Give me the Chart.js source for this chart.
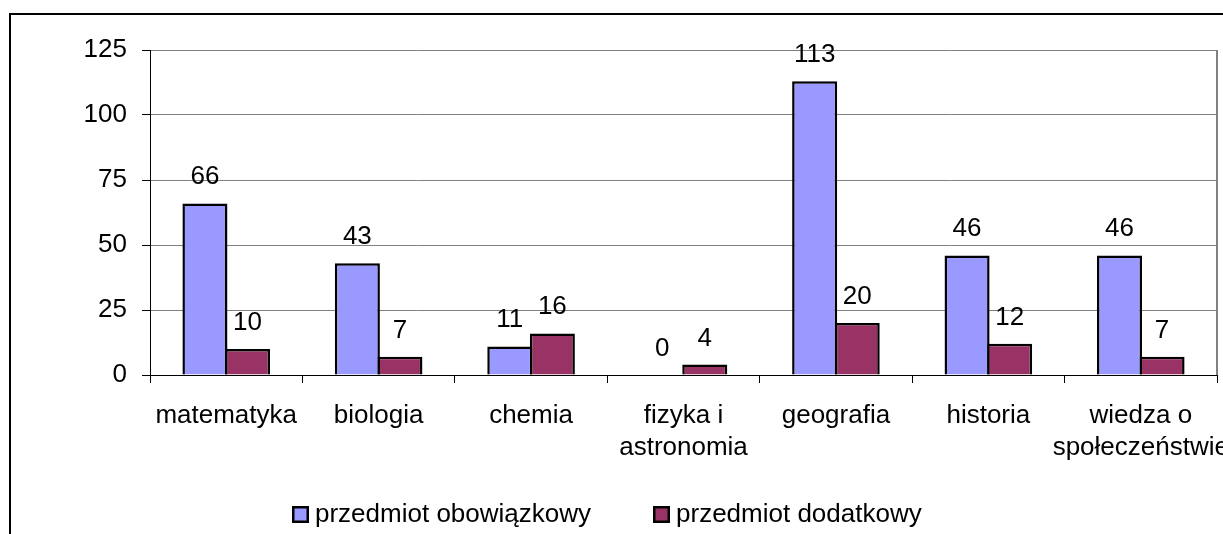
<!DOCTYPE html>
<html>
<head>
<meta charset="utf-8">
<script src="https://cdn.jsdelivr.net/npm/chart.js@4"></script>
<style>
    html, body { margin: 0; padding: 0; background: #ffffff; }
    #wrap { width: 1223px; height: 534px; }
</style>
</head>
<body>
<div id="wrap"><canvas id="subjectChart" width="1223" height="534"></canvas></div>
<script>
// Przedmioty wybierane na egzaminie - obowiazkowy vs dodatkowy

const subjects = ['matematyka', 'biologia', 'chemia', ['fizyka i', 'astronomia'], 'geografia', 'historia', ['wiedza o', 'społeczeństwie']];
const mandatory = [66, 43, 11, 0, 113, 46, 46];
const additional = [10, 7, 16, 4, 20, 12, 7];
const seriesNames = ['przedmiot obowiązkowy', 'przedmiot dodatkowy'];
const yTicks = [0, 25, 50, 75, 100, 125];

const FONT = 'Liberation Sans, Arial, sans-serif';
const BLUE = '#9999ff';
const PLUM = '#993366';

// outer frame, plot right edge, value labels and the legend
const excelLook = {
    id: 'excelLook',
    beforeDraw(chart) {
        const ctx = chart.ctx;
        ctx.save();
        ctx.strokeStyle = '#000';
        ctx.lineWidth = 2;
        ctx.beginPath();
        ctx.moveTo(10, chart.height + 2);
        ctx.lineTo(10, 14);
        ctx.lineTo(chart.width + 2, 14);
        ctx.stroke();
        ctx.restore();
    },
    afterDatasetsDraw(chart) {
        const ctx = chart.ctx;
        const area = chart.chartArea;
        ctx.save();
        ctx.strokeStyle = '#808080';
        ctx.lineWidth = 2;
        ctx.beginPath();
        ctx.moveTo(area.right, area.top);
        ctx.lineTo(area.right, area.bottom);
        ctx.stroke();

        ctx.font = '26px ' + FONT;
        ctx.fillStyle = '#000';
        ctx.textAlign = 'center';
        ctx.textBaseline = 'alphabetic';
        chart.data.datasets.forEach((dataset, i) => {
            const meta = chart.getDatasetMeta(i);
            meta.data.forEach((bar, index) => {
                ctx.fillText(String(dataset.data[index]), bar.x, bar.y - 19);
            });
        });
        ctx.restore();
    },
    afterDraw(chart) {
        const ctx = chart.ctx;
        ctx.save();
        ctx.font = '26px ' + FONT;
        ctx.textBaseline = 'alphabetic';
        ctx.textAlign = 'left';
        let x = 292;
        const boxTop = 506;
        chart.data.datasets.forEach(dataset => {
            ctx.fillStyle = dataset.backgroundColor;
            ctx.fillRect(x, boxTop, 17, 17);
            ctx.strokeStyle = '#000';
            ctx.lineWidth = 2.5;
            ctx.strokeRect(x + 1.25, boxTop + 1.25, 14.5, 14.5);
            ctx.fillStyle = '#000';
            ctx.fillText(dataset.label, x + 23, 522);
            x += 23 + ctx.measureText(dataset.label).width + 62;
        });
        ctx.restore();
    }
};

const ctx = document.getElementById('subjectChart').getContext('2d');
const subjectChart = new Chart(ctx, {
    type: 'bar',
    data: {
        labels: subjects,
        datasets: [{
            label: seriesNames[0],
            data: mandatory,
            backgroundColor: BLUE,
            borderColor: '#000',
            borderWidth: 2.5,
            categoryPercentage: 0.5583,
            barPercentage: 1.0588
        }, {
            label: seriesNames[1],
            data: additional,
            backgroundColor: PLUM,
            borderColor: '#000',
            borderWidth: 2.5,
            categoryPercentage: 0.5583,
            barPercentage: 1.0588
        }]
    },
    options: {
        responsive: false,
        animation: false,
        devicePixelRatio: 1,
        layout: {
            padding: { top: 50, right: 6, bottom: 0, left: 0 }
        },
        scales: {
            y: {
                min: 0,
                max: 125,
                afterBuildTicks: scale => {
                    scale.ticks = yTicks.map(v => ({ value: v }));
                },
                afterFit: scale => {
                    scale.width = 150;
                },
                ticks: {
                    color: '#000',
                    padding: 15,
                    font: { family: FONT, size: 26 }
                },
                grid: {
                    color: '#808080',
                    lineWidth: 1,
                    tickColor: '#000',
                    tickLength: 8
                },
                border: {
                    color: '#000',
                    width: 1
                }
            },
            x: {
                afterFit: scale => {
                    scale.height = 159;
                    scale.paddingLeft = 0;
                    scale.paddingRight = 0;
                },
                ticks: {
                    color: '#000',
                    padding: 17,
                    maxRotation: 0,
                    autoSkip: false,
                    font: { family: FONT, size: 26, lineHeight: '32px' }
                },
                grid: {
                    drawOnChartArea: false,
                    color: '#000',
                    tickColor: '#000',
                    tickLength: 8,
                    offset: true
                },
                border: {
                    color: '#000',
                    width: 1
                }
            }
        },
        plugins: {
            legend: { display: false },
            tooltip: { enabled: false }
        }
    },
    plugins: [excelLook]
});
</script>
</body>
</html>
